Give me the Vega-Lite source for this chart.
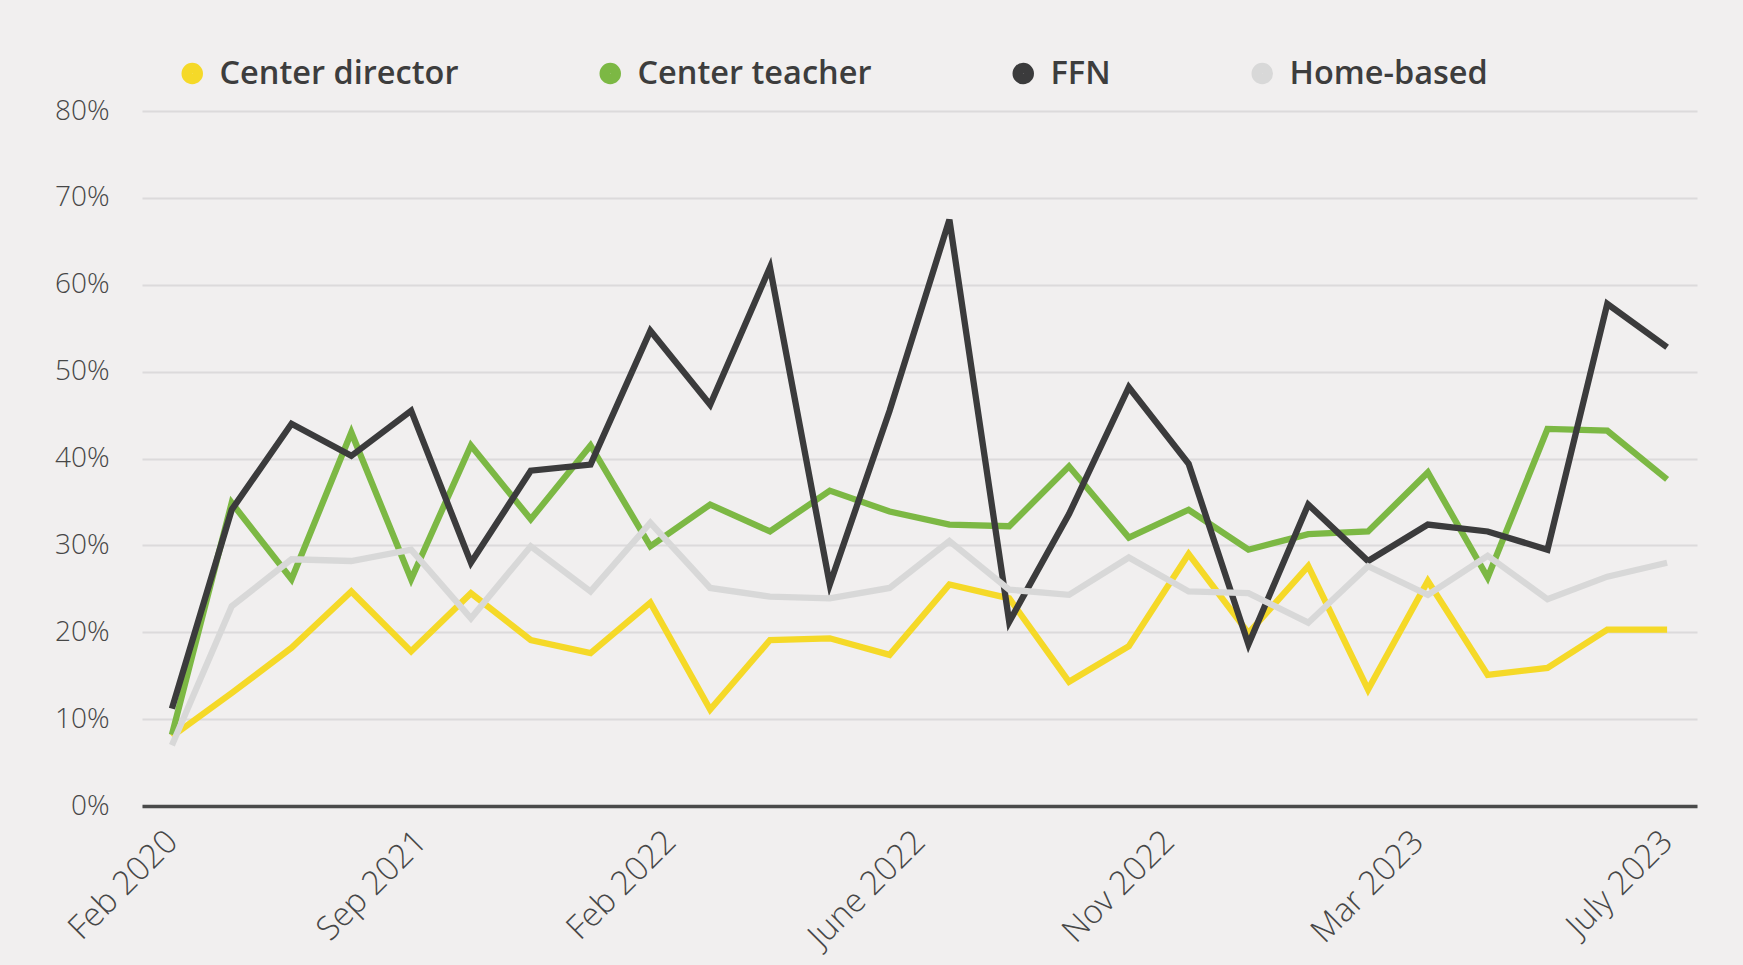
{
  "$schema": "https://vega.github.io/schema/vega-lite/v6.json",
  "width": 1555,
  "height": 695,
  "autosize": {"type": "none"},
  "padding": {"left": 142, "top": 111, "right": 46, "bottom": 159},
  "background": "#f1efef",
  "config": {
    "view": {"stroke": null},
    "font": "Open Sans"
  },
  "data": {
    "values": [
      {"i": 0, "Center director": 8, "Center teacher": 8.2, "FFN": 11.2, "Home-based": 7},
      {"i": 1, "Center director": 13, "Center teacher": 34.9, "FFN": 34.1, "Home-based": 23},
      {"i": 2, "Center director": 18.2, "Center teacher": 26.1, "FFN": 44, "Home-based": 28.4},
      {"i": 3, "Center director": 24.7, "Center teacher": 43, "FFN": 40.3, "Home-based": 28.2},
      {"i": 4, "Center director": 17.8, "Center teacher": 26.1, "FFN": 45.5, "Home-based": 29.5},
      {"i": 5, "Center director": 24.5, "Center teacher": 41.5, "FFN": 28, "Home-based": 21.6},
      {"i": 6, "Center director": 19.1, "Center teacher": 33, "FFN": 38.6, "Home-based": 29.9},
      {"i": 7, "Center director": 17.6, "Center teacher": 41.5, "FFN": 39.3, "Home-based": 24.7},
      {"i": 8, "Center director": 23.4, "Center teacher": 29.9, "FFN": 54.7, "Home-based": 32.6},
      {"i": 9, "Center director": 11.1, "Center teacher": 34.7, "FFN": 46.2, "Home-based": 25.1},
      {"i": 10, "Center director": 19.1, "Center teacher": 31.6, "FFN": 62, "Home-based": 24.1},
      {"i": 11, "Center director": 19.3, "Center teacher": 36.3, "FFN": 25.5, "Home-based": 23.9},
      {"i": 12, "Center director": 17.4, "Center teacher": 33.9, "FFN": 45.5, "Home-based": 25.1},
      {"i": 13, "Center director": 25.5, "Center teacher": 32.4, "FFN": 67.5, "Home-based": 30.5},
      {"i": 14, "Center director": 23.9, "Center teacher": 32.2, "FFN": 21.2, "Home-based": 24.9},
      {"i": 15, "Center director": 14.3, "Center teacher": 39.1, "FFN": 33.6, "Home-based": 24.3},
      {"i": 16, "Center director": 18.4, "Center teacher": 30.9, "FFN": 48.2, "Home-based": 28.6},
      {"i": 17, "Center director": 29, "Center teacher": 34.1, "FFN": 39.4, "Home-based": 24.7},
      {"i": 18, "Center director": 19.9, "Center teacher": 29.5, "FFN": 18.6, "Home-based": 24.5},
      {"i": 19, "Center director": 27.6, "Center teacher": 31.3, "FFN": 34.7, "Home-based": 21.1},
      {"i": 20, "Center director": 13.4, "Center teacher": 31.6, "FFN": 28.2, "Home-based": 27.6},
      {"i": 21, "Center director": 25.9, "Center teacher": 38.4, "FFN": 32.4, "Home-based": 24.3},
      {"i": 22, "Center director": 15.1, "Center teacher": 26.3, "FFN": 31.6, "Home-based": 28.8},
      {"i": 23, "Center director": 15.9, "Center teacher": 43.4, "FFN": 29.5, "Home-based": 23.8},
      {"i": 24, "Center director": 20.3, "Center teacher": 43.2, "FFN": 57.8, "Home-based": 26.4},
      {"i": 25, "Center director": 20.3, "Center teacher": 37.6, "FFN": 52.8, "Home-based": 28}
    ]
  },
  "transform": [
    {"fold": ["Center director", "Center teacher", "FFN", "Home-based"], "as": ["group", "share"]}
  ],
  "mark": {"type": "line", "strokeWidth": 6.3, "strokeJoin": "miter", "strokeCap": "butt"},
  "encoding": {
    "x": {
      "field": "i",
      "type": "quantitative",
      "scale": {"domain": [-0.5, 25.5], "nice": false, "zero": false},
      "axis": {
        "title": null,
        "values": [0, 4.1667, 8.3333, 12.5, 16.6667, 20.8333, 25],
        "labelExpr": "['Feb 2020','Sep 2021','Feb 2022','June 2022','Nov 2022','Mar 2023','July 2023'][round(datum.value*6/25)]",
        "labelAngle": -45,
        "labelAlign": "right",
        "labelBaseline": "middle",
        "labelFont": "Open Sans",
        "labelFontSize": 33,
        "labelFontWeight": 300,
        "labelColor": "#474747",
        "labelPadding": 30,
        "ticks": false,
        "grid": false,
        "domain": true,
        "domainColor": "#4a4a4a",
        "domainWidth": 3.5,
        "labelOverlap": false,
        "labelBound": false,
        "labelFlush": false
      }
    },
    "y": {
      "field": "share",
      "type": "quantitative",
      "scale": {"domain": [0, 80], "nice": false},
      "axis": {
        "title": null,
        "values": [0, 10, 20, 30, 40, 50, 60, 70, 80],
        "labelExpr": "datum.value + '%'",
        "labelFont": "Open Sans",
        "labelFontSize": 28,
        "labelFontWeight": 300,
        "labelColor": "#474747",
        "labelPadding": 33,
        "ticks": false,
        "domain": false,
        "grid": true,
        "gridColor": "#dcdadb",
        "gridWidth": 2
      }
    },
    "color": {
      "field": "group",
      "type": "nominal",
      "scale": {
        "domain": ["Center director", "Center teacher", "FFN", "Home-based"],
        "range": ["#f5d928", "#7cb844", "#3b3b3c", "#d8d8d8"]
      },
      "legend": {
        "title": null,
        "orient": "none",
        "legendX": 34,
        "legendY": -54,
        "direction": "horizontal",
        "symbolType": "circle",
        "symbolSize": 110,
        "symbolStrokeWidth": 11,
        "labelFont": "Open Sans",
        "labelFontSize": 32.5,
        "labelFontWeight": 600,
        "labelColor": "#3d3d3d",
        "labelOffset": 11,
        "columnPadding": 124,
        "labelLimit": 400
      }
    }
  }
}
